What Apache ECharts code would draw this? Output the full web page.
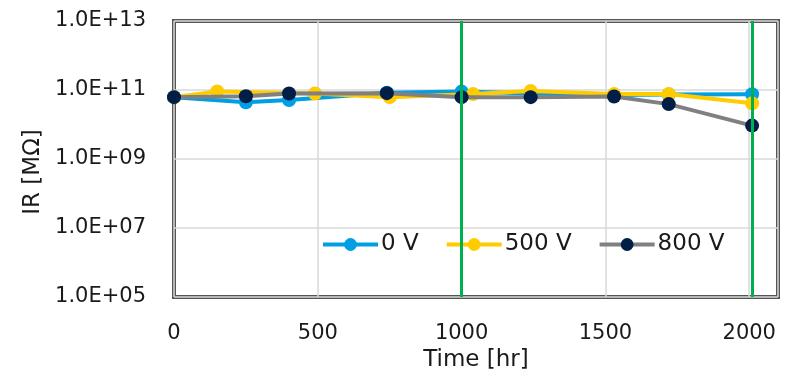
<!DOCTYPE html>
<html>
<head>
<meta charset="utf-8">
<script src="https://cdn.jsdelivr.net/npm/echarts@6.0.0/dist/echarts.min.js"></script>
<style>
  html, body { margin: 0; padding: 0; background: #fff; }
  #chart { width: 808px; height: 371px; }
</style>
</head>
<body>
<div id="chart"></div>
<script>
// time in hours, IR in MOhm
var time0 = [0, 250, 400, 740, 1000, 1240, 1530, 1720, 2010];
var ir0 = [6.2e10, 4.4e10, 5.1e10, 8.3e10, 9.0e10, 7.9e10, 7.2e10, 7.4e10, 7.5e10];

var time500 = [0, 150, 490, 750, 1040, 1240, 1530, 1720, 2010];
var ir500 = [6.2e10, 9.1e10, 7.9e10, 6.2e10, 7.6e10, 9.3e10, 7.6e10, 7.6e10, 4.1e10];

var time800 = [0, 250, 400, 740, 1000, 1240, 1530, 1720, 2010];
var ir800 = [6.2e10, 6.6e10, 7.9e10, 8.1e10, 6.2e10, 6.2e10, 6.5e10, 3.9e10, 9.3e9];

var seriesNames = ['0 V', '500 V', '800 V'];
var markTimes = [1000, 2010];

function pairs(xs, ys) {
    var out = [];
    for (var i = 0; i < xs.length; i++) out.push([xs[i], ys[i]]);
    return out;
}

var font = 'DejaVu Sans';
var myChart = echarts.init(document.getElementById('chart'));

var option = {
    animation: false,
    backgroundColor: '#fff',
    textStyle: { fontFamily: font },
    grid: {
        left: 174, right: 30, top: 21, bottom: 74,
        outerBoundsMode: 'none',
        containLabel: false,
        show: true,
        borderColor: '#555555',
        borderWidth: 4
    },
    legend: {
        data: seriesNames,
        left: 316, top: 228,
        itemWidth: 55, itemHeight: 16, itemGap: 26,
        lineStyle: { width: 4 },
        textStyle: { fontSize: 23, color: '#1a1a1a', fontFamily: font, padding: [0, 0, 0, -2] }
    },
    xAxis: {
        type: 'value',
        min: 0, max: 2100, interval: 500,
        name: 'Time [hr]',
        nameLocation: 'middle',
        nameGap: 49,
        nameTextStyle: { fontSize: 23, color: '#1a1a1a' },
        axisLine: { show: false },
        axisTick: { show: false },
        axisLabel: {
            fontSize: 21, color: '#1a1a1a', margin: 26,
            formatter: function (v) { return v > 2000 ? '' : String(v); }
        },
        splitLine: { show: true, lineStyle: { color: '#d9d9d9', width: 1.5 } }
    },
    yAxis: {
        type: 'log',
        logBase: 10,
        min: 1e5, max: 1e13, interval: 2,
        name: 'IR [MΩ]',
        nameLocation: 'middle',
        nameGap: 119,
        nameTextStyle: { fontSize: 23, color: '#1a1a1a', padding: [0, 26, 0, 0] },
        axisLine: { show: false },
        axisTick: { show: false },
        axisLabel: {
            fontSize: 21, color: '#1a1a1a', margin: 28,
            formatter: function (v) {
                var e = Math.round(Math.log10(v));
                return '1.0E+' + (e < 10 ? '0' : '') + e;
            }
        },
        splitLine: { show: true, lineStyle: { color: '#d9d9d9', width: 1.5 } }
    },
    series: [
        {
            name: seriesNames[0], type: 'line',
            data: pairs(time0, ir0),
            symbol: 'circle', symbolSize: 14,
            lineStyle: { color: '#009FE3', width: 4 },
            itemStyle: { color: '#009FE3' },
            z: 2
        },
        {
            name: seriesNames[1], type: 'line',
            data: pairs(time500, ir500),
            symbol: 'circle', symbolSize: 14,
            lineStyle: { color: '#FFCC00', width: 4 },
            itemStyle: { color: '#FFCC00' },
            z: 3
        },
        {
            name: seriesNames[2], type: 'line',
            data: pairs(time800, ir800),
            symbol: 'circle', symbolSize: 14,
            lineStyle: { color: '#808080', width: 4 },
            itemStyle: { color: '#001E46' },
            z: 4
        },
        {
            name: 'marks', type: 'line', data: [],
            z: 10,
            markLine: {
                silent: true,
                symbol: ['none', 'none'],
                label: { show: false },
                lineStyle: { color: '#00B050', width: 3, type: 'solid' },
                data: markTimes.map(function (t) { return { xAxis: t }; })
            }
        }
    ]
};

myChart.setOption(option);
</script>
</body>
</html>
